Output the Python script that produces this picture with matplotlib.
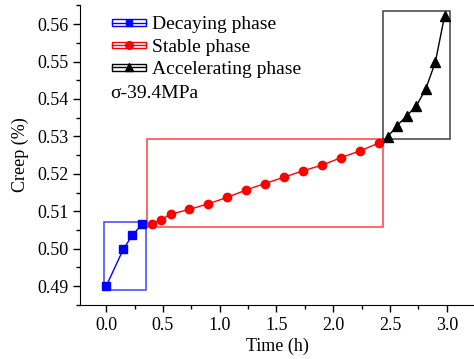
import matplotlib
matplotlib.use('Agg')
import matplotlib.pyplot as plt
from matplotlib.patches import Rectangle
from matplotlib.lines import Line2D
from matplotlib.legend_handler import HandlerBase
from matplotlib.ticker import MultipleLocator

plt.rcParams['font.family'] = ['Liberation Serif', 'DejaVu Serif']

# creep data (time in h, creep in %)
t_decay = [0.0, 0.15, 0.23, 0.317]
c_decay = [0.4900, 0.4998, 0.5036, 0.5065]

t_stable = [0.40, 0.483, 0.567, 0.733, 0.90, 1.067, 1.233, 1.40, 1.567, 1.733, 1.90, 2.067, 2.233, 2.40]
c_stable = [0.5067, 0.5077, 0.5092, 0.5105, 0.5120, 0.5137, 0.5157, 0.5174, 0.5191, 0.5208, 0.5223, 0.5243, 0.5261, 0.5282]

t_acc = [2.48, 2.564, 2.647, 2.731, 2.814, 2.899, 2.981]
c_acc = [0.5299, 0.5329, 0.5355, 0.5381, 0.5426, 0.5498, 0.5622]

labels = ['Decaying phase', 'Stable phase', 'Accelerating phase']
stress_label = 'σ-39.4MPa'


class BoxLineHandler(HandlerBase):
    # origin-style legend key: outlined box with the line + marker through it
    def create_artists(self, legend, orig_handle, xdescent, ydescent,
                       width, height, fontsize, trans):
        col = orig_handle.get_color()
        yc = height / 2 - ydescent
        h = 5.0
        rect = Rectangle((-xdescent, yc - h / 2), width, h, fill=False,
                         edgecolor=col, lw=1.0, transform=trans)
        ln = Line2D([-xdescent, -xdescent + width], [yc, yc], color=col,
                    lw=1.0, transform=trans)
        mk = Line2D([-xdescent + width / 2], [yc], color=col, ls='none',
                    marker=orig_handle.get_marker(),
                    ms=orig_handle.get_markersize(), transform=trans)
        return [rect, ln, mk]


fig = plt.figure(figsize=(4.74, 3.59), dpi=100)
ax = fig.add_axes([0.169, 0.150, 0.831, 0.836])

series = [
    (t_decay, c_decay, 'blue', 's', 5.5, (0.02, 0.035, 0.0011, 0.0007)),
    (t_stable, c_stable, 'red', 'o', 6, (0.04, 0.035, 0.0009, 0.0011)),
    (t_acc, c_acc, 'black', '^', 6.5, (0.04, 0.05, 0.0007, 0.0013)),
]

handles = []
for (t, c, col, mk, ms, pad), lab in zip(series, labels):
    line, = ax.plot(t, c, color=col, marker=mk, ms=ms, lw=1, zorder=3)
    x0, x1 = min(t) - pad[0], max(t) + pad[1]
    y0, y1 = min(c) - pad[2], max(c) + pad[3]
    ax.add_patch(Rectangle((x0, y0), x1 - x0, y1 - y0, fill=False,
                           edgecolor=col, lw=1.1, alpha=0.75, zorder=2))
    handles.append(Line2D([], [], color=col, marker=mk, ms=ms - 0.5))

ax.legend(handles, labels, handler_map={Line2D: BoxLineHandler()},
          loc='upper left', bbox_to_anchor=(0.081, 0.962), frameon=False,
          fontsize=14, handlelength=1.75, handleheight=0.5, handletextpad=0.3,
          labelspacing=0.28, borderpad=0, borderaxespad=0)
ax.text(0.077, 0.705, stress_label, transform=ax.transAxes, fontsize=14,
        va='center', ha='left')

ax.set_xlim(-0.23, 3.24)
ax.set_ylim(0.4849, 0.5651)
ax.xaxis.set_major_locator(MultipleLocator(0.5))
ax.xaxis.set_minor_locator(MultipleLocator(0.25))
ax.yaxis.set_major_locator(MultipleLocator(0.01))
ax.yaxis.set_minor_locator(MultipleLocator(0.005))
ax.xaxis.set_major_formatter(lambda v, p: f'{v:.1f}')
ax.yaxis.set_major_formatter(lambda v, p: f'{v:.2f}')
ax.tick_params(which='major', direction='out', length=5, width=1, labelsize=13)
ax.tick_params(which='minor', direction='out', length=3, width=1)
for s in ['top', 'right']:
    ax.spines[s].set_visible(False)
ax.set_xlabel('Time (h)', fontsize=13, labelpad=3)
ax.set_ylabel('Creep (%)', fontsize=13, labelpad=6)

fig.savefig('out.png', dpi=100)
